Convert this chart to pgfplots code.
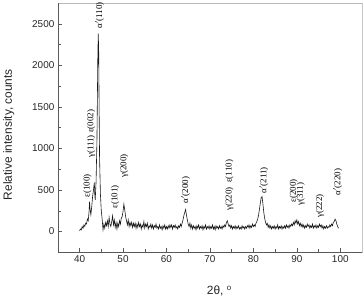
\documentclass[border=0pt]{standalone}
\usepackage{fontspec}
\setmainfont{Liberation Sans}
\newfontfamily\pkfont{Liberation Serif}
\usepackage{pgfplots}
\pgfplotsset{compat=1.18}
\begin{document}
\begin{tikzpicture}
\begin{axis}[
  at={(0,0)}, anchor=south west,
  scale only axis, width=305bp, height=250bp,
  xmin=35, xmax=105, ymin=-250, ymax=2750,
  xtick={40,50,...,100}, ytick={0,500,...,2500},
  minor x tick num=1, minor y tick num=1,
  tick align=inside, xtick pos=left, ytick pos=left,
  major tick length=4bp, minor tick length=3bp,
  every tick/.style={gray!70!black},
  axis line style={gray!55},
  tick label style={font=\fontsize{10}{12}\selectfont, text=black!85},
  /pgf/number format/assume math mode=true,
  /pgf/number format/1000 sep={},
  scaled y ticks=false,
  xlabel={2θ, \textsuperscript{o}},
  ylabel={Relative intensity, counts},
  label style={font=\fontsize{12}{14}\selectfont, text=black!85},
  xlabel style={at={(axis description cs:0.531,-0.156)}, anchor=center},
  ylabel style={at={(axis description cs:-0.161,0.472)}, anchor=center},
  clip=false,
]
\addplot[black!90, line width=0.6pt] coordinates {
(40.0,10) (40.2,30) (40.4,20) (40.6,60) (40.8,40) (41.0,80) (41.2,60) (41.4,100) (41.6,90) (41.8,150)
(42.0,130) (42.2,250) (42.3,360) (42.4,280) (42.6,200) (42.8,300) (43.0,420) (43.2,500) (43.4,590) (43.5,450)
(43.6,380) (43.8,600) (44.0,1100) (44.1,1600) (44.2,2100) (44.3,2380) (44.4,2200) (44.5,1500) (44.6,900) (44.8,450)
(45.0,250) (45.2,150) (45.4,20) (45.6,90) (45.8,40) (46.0,110) (46.2,70) (46.4,130) (46.6,60) (46.8,170)
(47.0,90) (47.2,60) (47.4,120) (47.6,190) (47.8,80) (48.0,140) (48.2,50) (48.4,110) (48.6,30) (48.8,100)
(49.0,60) (49.2,130) (49.4,90) (49.6,160) (49.8,180) (50.0,240) (50.2,330) (50.4,260) (50.6,180) (50.8,130)
(51.0,80) (51.2,140) (51.4,60) (51.6,110) (51.8,70) (52.0,110) (52.2,50) (52.4,100) (52.6,60) (52.8,100)
(53.0,40) (53.2,90) (53.4,50) (53.6,110) (53.8,60) (54.0,90) (54.2,30) (54.4,80) (54.6,50) (54.8,120)
(55.0,40) (55.2,90) (55.4,60) (55.6,100) (55.8,30) (56.0,70) (56.2,50) (56.4,90) (56.6,40) (56.8,80)
(57.0,30) (57.2,70) (57.4,50) (57.6,90) (57.8,40) (58.0,60) (58.2,30) (58.4,80) (58.6,40) (58.8,60)
(59.0,20) (59.2,70) (59.4,40) (59.6,80) (59.8,30) (60.0,60) (60.2,30) (60.4,70) (60.6,40) (60.8,80)
(61.0,50) (61.2,80) (61.4,30) (61.6,70) (61.8,50) (62.0,80) (62.2,40) (62.4,60) (62.6,30) (62.8,70)
(63.0,50) (63.2,90) (63.4,60) (63.6,100) (63.8,140) (64.0,190) (64.2,230) (64.4,265) (64.6,200) (64.8,140)
(65.0,90) (65.2,60) (65.4,100) (65.6,40) (65.8,80) (66.0,30) (66.2,70) (66.4,40) (66.6,60) (66.8,20)
(67.0,70) (67.2,40) (67.4,80) (67.6,30) (67.8,60) (68.0,40) (68.2,70) (68.4,20) (68.6,60) (68.8,40)
(69.0,80) (69.2,30) (69.4,60) (69.6,40) (69.8,70) (70.0,30) (70.2,60) (70.4,40) (70.6,80) (70.8,30)
(71.0,60) (71.2,20) (71.4,70) (71.6,40) (71.8,60) (72.0,30) (72.2,70) (72.4,40) (72.6,60) (72.8,30)
(73.0,70) (73.2,50) (73.4,80) (73.6,60) (73.8,110) (74.0,130) (74.2,90) (74.4,60) (74.6,80) (74.8,40)
(75.0,70) (75.2,30) (75.4,60) (75.6,40) (75.8,70) (76.0,30) (76.2,60) (76.4,40) (76.6,70) (76.8,30)
(77.0,50) (77.2,30) (77.4,70) (77.6,40) (77.8,60) (78.0,30) (78.2,60) (78.4,40) (78.6,70) (78.8,50)
(79.0,80) (79.2,40) (79.4,70) (79.6,50) (79.8,90) (80.0,60) (80.2,80) (80.4,60) (80.6,100) (80.8,120)
(81.0,150) (81.2,200) (81.4,270) (81.6,340) (81.8,410) (82.0,420) (82.2,330) (82.4,230) (82.6,160) (82.8,110)
(83.0,80) (83.2,100) (83.4,50) (83.6,80) (83.8,40) (84.0,70) (84.2,30) (84.4,60) (84.6,40) (84.8,70)
(85.0,30) (85.2,60) (85.4,40) (85.6,80) (85.8,30) (86.0,60) (86.2,40) (86.4,70) (86.6,30) (86.8,60)
(87.0,40) (87.2,70) (87.4,40) (87.6,80) (87.8,50) (88.0,70) (88.2,40) (88.4,80) (88.6,60) (88.8,90)
(89.0,70) (89.2,110) (89.4,80) (89.6,130) (89.8,100) (90.0,140) (90.2,90) (90.4,120) (90.6,70) (90.8,100)
(91.0,60) (91.2,90) (91.4,50) (91.6,80) (91.8,40) (92.0,70) (92.2,50) (92.4,90) (92.6,60) (92.8,80)
(93.0,40) (93.2,70) (93.4,50) (93.6,90) (93.8,40) (94.0,70) (94.2,50) (94.4,80) (94.6,40) (94.8,70)
(95.0,50) (95.2,90) (95.4,60) (95.6,80) (95.8,40) (96.0,70) (96.2,30) (96.4,60) (96.6,40) (96.8,70)
(97.0,40) (97.2,60) (97.4,50) (97.6,80) (97.8,60) (98.0,90) (98.2,70) (98.4,110) (98.6,120) (98.8,150)
(99.0,130) (99.2,90) (99.4,60) (99.6,40)
};
\draw[gray!70!black] (rel axis cs:0,0) -- (rel axis cs:0,1);
\draw[gray!70!black] (rel axis cs:0,0) -- (rel axis cs:1,0);
\draw[gray!45, line width=1pt] (rel axis cs:1,0) -- (rel axis cs:1,1);
\tikzset{pk/.style={rotate=90, anchor=west, inner sep=0pt, font=\pkfont\fontsize{9}{9}\selectfont}}
\node[pk] at (axis cs:41.8,405) {ε(100)};
\node[pk] at (axis cs:42.7,885) {γ(111) ε(002)};
\node[pk] at (axis cs:44.6,2440) {α$'$(110)};
\node[pk] at (axis cs:48.2,275) {ε(101)};
\node[pk] at (axis cs:50.3,645) {γ(200)};
\node[pk] at (axis cs:64.4,335) {α$'$(200)};
\node[pk] at (axis cs:74.5,250) {γ(220)\enspace ε(110)};
\node[pk] at (axis cs:82.4,455) {α$'$(211)};
\node[pk] at (axis cs:89.3,345) {ε(200)};
\node[pk] at (axis cs:90.9,310) {γ(311)};
\node[pk] at (axis cs:95.3,165) {γ(222)};
\node[pk] at (axis cs:99.4,430) {α$'$(220)};
\end{axis}
\path (-57bp,-49bp) rectangle (307bp,253bp);
\end{tikzpicture}
\end{document}
